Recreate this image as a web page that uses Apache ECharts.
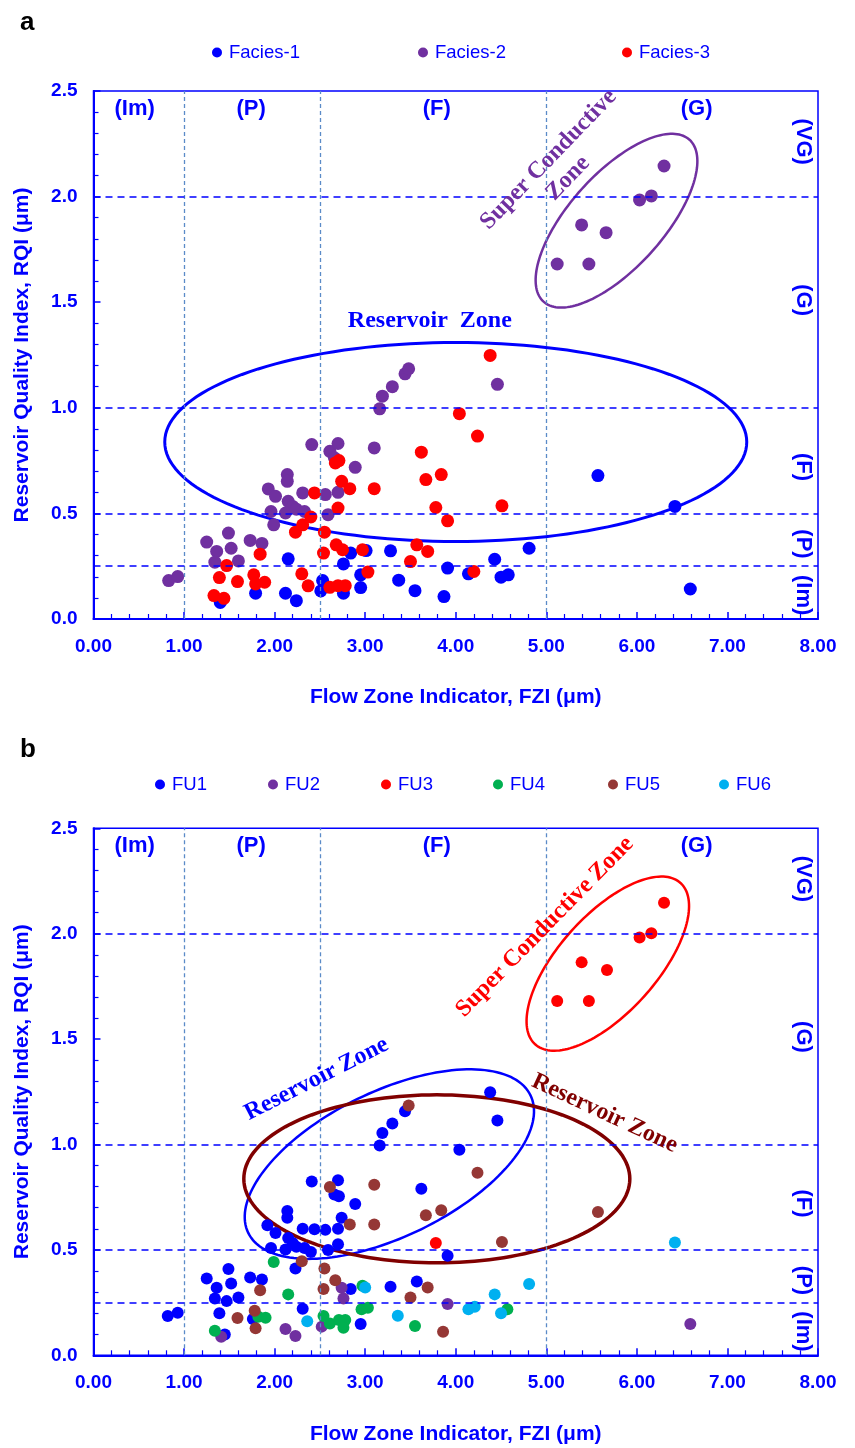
<!DOCTYPE html>
<html><head><meta charset="utf-8">
<script src="https://cdn.jsdelivr.net/npm/echarts@6/dist/echarts.min.js"></script>
<style>html,body{margin:0;padding:0;background:#fff}#c{width:855px;height:1448px}</style>
</head><body><div id="c"></div>
<script>
// ---------- data ----------
const xTickLabels = ['0.00','1.00','2.00','3.00','4.00','5.00','6.00','7.00','8.00'];
const yTickLabels = ['0.0','0.5','1.0','1.5','2.0','2.5'];
const fziBounds = [1.0, 2.5, 5.0];
const rqiBounds = [0.25, 0.5, 1.0, 2.0];
const topClassLabels = [['(Im)',0.455],['(P)',1.74],['(F)',3.79],['(G)',6.66]];
const rightClassLabels = [['(VG)',2.26],['(G)',1.51],['(F)',0.72],['(P)',0.355],['(Im)',0.113]];

const facies1 = [[1.40,0.078],[1.79,0.122],[2.15,0.285],[2.12,0.122],[2.24,0.087],[2.53,0.182],[2.51,0.133],[2.76,0.122],[2.76,0.261],[2.84,0.312],[2.95,0.209],[2.95,0.149],[3.01,0.324],[3.28,0.323],[3.37,0.184],[3.55,0.134],[3.87,0.106],[3.91,0.241],[4.14,0.214],[4.43,0.283],[4.50,0.198],[4.58,0.209],[4.81,0.335],[5.57,0.679],[6.42,0.533],[6.59,0.142]];
const facies2 = [[0.83,0.182],[0.93,0.201],[1.25,0.364],[1.36,0.320],[1.34,0.269],[1.49,0.407],[1.52,0.335],[1.60,0.275],[1.73,0.372],[1.86,0.358],[1.93,0.616],[2.01,0.581],[1.96,0.509],[1.99,0.446],[2.14,0.684],[2.14,0.652],[2.15,0.557],[2.20,0.533],[2.12,0.502],[2.24,0.520],[2.31,0.597],[2.33,0.509],[2.41,0.826],[2.56,0.589],[2.59,0.494],[2.61,0.794],[2.70,0.831],[2.66,0.763],[2.70,0.600],[2.89,0.718],[3.10,0.810],[3.16,0.995],[3.19,1.055],[3.30,1.100],[3.44,1.161],[3.48,1.185],[4.46,1.111],[5.12,1.681],[5.47,1.681],[5.39,1.866],[5.66,1.829],[6.03,1.984],[6.16,2.003],[6.30,2.145]];
const facies3 = [[1.33,0.111],[1.44,0.098],[1.39,0.196],[1.47,0.253],[1.59,0.177],[1.77,0.209],[1.79,0.166],[1.84,0.307],[1.89,0.174],[2.23,0.411],[2.31,0.446],[2.40,0.483],[2.30,0.214],[2.37,0.157],[2.44,0.597],[2.55,0.411],[2.54,0.312],[2.61,0.150],[2.70,0.158],[2.78,0.158],[2.68,0.351],[2.75,0.328],[2.70,0.525],[2.67,0.739],[2.71,0.750],[2.74,0.652],[2.83,0.617],[2.97,0.328],[3.03,0.222],[3.10,0.617],[3.50,0.272],[3.57,0.351],[3.69,0.320],[3.62,0.790],[3.67,0.660],[3.78,0.528],[3.84,0.684],[3.91,0.465],[4.04,0.972],[4.38,1.248],[4.24,0.866],[4.51,0.536],[4.20,0.225]];

const fu1 = [[0.82,0.186],[0.93,0.202],[1.25,0.364],[1.36,0.320],[1.34,0.270],[1.49,0.409],[1.52,0.341],[1.47,0.257],[1.39,0.199],[1.45,0.099],[1.60,0.274],[1.73,0.369],[1.86,0.360],[1.76,0.172],[1.92,0.617],[2.01,0.580],[1.96,0.509],[2.14,0.685],[2.14,0.653],[2.15,0.557],[2.20,0.533],[2.12,0.502],[2.24,0.515],[2.23,0.412],[2.31,0.221],[2.31,0.600],[2.33,0.509],[2.40,0.490],[2.41,0.825],[2.44,0.598],[2.56,0.595],[2.59,0.500],[2.70,0.830],[2.66,0.763],[2.71,0.755],[2.74,0.653],[2.70,0.600],[2.70,0.527],[2.84,0.314],[2.89,0.718],[2.95,0.148],[3.16,0.995],[3.19,1.055],[3.30,1.100],[3.44,1.158],[3.28,0.325],[3.57,0.350],[3.62,0.790],[3.91,0.472],[4.04,0.975],[4.38,1.248],[4.46,1.114]];
const fu2 = [[1.41,0.088],[2.12,0.125],[2.23,0.091],[2.52,0.136],[2.74,0.320],[2.76,0.270],[3.91,0.243],[6.59,0.148]];
const fu3 = [[5.12,1.681],[5.47,1.681],[5.39,1.864],[5.67,1.828],[6.03,1.982],[6.16,2.002],[6.30,2.147],[3.78,0.533]];
const fu4 = [[1.34,0.117],[1.82,0.183],[1.90,0.178],[1.99,0.443],[2.15,0.289],[2.54,0.186],[2.61,0.151],[2.71,0.167],[2.78,0.167],[2.76,0.131],[2.96,0.219],[3.03,0.226],[2.97,0.330],[3.55,0.139],[4.57,0.218]];
const fu5 = [[1.59,0.177],[1.78,0.211],[1.79,0.128],[1.84,0.309],[2.30,0.446],[2.55,0.412],[2.54,0.314],[2.67,0.356],[2.61,0.798],[2.83,0.621],[3.10,0.809],[3.10,0.621],[3.48,1.185],[3.67,0.664],[3.84,0.688],[4.24,0.866],[4.51,0.538],[5.57,0.680],[3.50,0.274],[3.69,0.322],[3.86,0.112]];
const fu6 = [[2.36,0.162],[3.00,0.322],[3.36,0.188],[4.14,0.219],[4.21,0.230],[4.43,0.289],[4.50,0.199],[4.81,0.338],[6.42,0.535]];

// ---------- style ----------
const BLUE = '#0000ff';
const SANS = '"Liberation Sans", Arial, sans-serif';
const SERIF = '"Liberation Serif", "Times New Roman", serif';

const chart = echarts.init(document.getElementById('c'), null, {renderer:'canvas'});

function xAxisCfg(gi){
  return {gridIndex:gi, type:'value', min:0, max:8, interval:1,
    axisLine:{show:true, onZero:false, lineStyle:{color:BLUE, width:2}},
    axisTick:{show:true, inside:true, length:7, lineStyle:{color:BLUE, width:1.5}},
    minorTick:{show:true, splitNumber:5, length:5, lineStyle:{color:BLUE, width:1.2}},
    splitLine:{show:false},
    axisLabel:{color:BLUE, fontFamily:SANS, fontWeight:'bold', fontSize:19, margin:18,
      formatter:(v)=>xTickLabels[Math.round(v)]},
    name:'Flow Zone Indicator, FZI (\u03bcm)', nameLocation:'middle', nameGap:68,
    nameTextStyle:{color:BLUE, fontFamily:SANS, fontWeight:'bold', fontSize:21}};
}
function yAxisCfg(gi){
  return {gridIndex:gi, type:'value', min:0, max:2.5, interval:0.5,
    axisLine:{show:true, onZero:false, lineStyle:{color:BLUE, width:2}},
    axisTick:{show:true, inside:true, length:7, lineStyle:{color:BLUE, width:1.5}},
    minorTick:{show:true, splitNumber:5, length:5, lineStyle:{color:BLUE, width:1.2}},
    splitLine:{show:false},
    axisLabel:{color:BLUE, fontFamily:SANS, fontWeight:'bold', fontSize:19, margin:16,
      formatter:(v)=>yTickLabels[Math.round(v*2)]},
    name:'Reservoir Quality Index, RQI (\u03bcm)', nameLocation:'middle', nameGap:61,
    nameTextStyle:{color:BLUE, fontFamily:SANS, fontWeight:'bold', fontSize:21}};
}

function boundLines(){
  const d = [];
  fziBounds.forEach(v=>d.push({xAxis:v, lineStyle:{color:'#5b8bc8', type:[4,3], width:1.3}}));
  rqiBounds.forEach(v=>d.push({yAxis:v, lineStyle:{color:BLUE, type:[7,5], width:1.5}}));
  return {silent:true, symbol:['none','none'], label:{show:false}, animation:false, data:d};
}

function sc(name, data, color, gi, size, withLines){
  const s = {name, type:'scatter', xAxisIndex:gi, yAxisIndex:gi, data,
    symbol:'circle', symbolSize:size, itemStyle:{color, opacity:1}, z:3, animation:false};
  if (withLines) s.markLine = boundLines();
  return s;
}

function legendItem(name, left, top){
  return {data:[{name, icon:'circle'}], left, top, padding:0, itemWidth:10, itemHeight:10, itemGap:0,
    textStyle:{color:BLUE, fontFamily:SANS, fontSize:18.5, padding:[0,0,0,2]}, selectedMode:false};
}

const option = {
  backgroundColor:'#fff',
  animation:false,
  grid:[
    {left:93.5, top:91, width:724.5, height:528, show:true, borderColor:BLUE, borderWidth:1.5, containLabel:false},
    {left:93.5, top:828.3, width:724.5, height:527, show:true, borderColor:BLUE, borderWidth:1.5, containLabel:false}
  ],
  xAxis:[xAxisCfg(0), xAxisCfg(1)],
  yAxis:[yAxisCfg(0), yAxisCfg(1)],
  legend:[
    legendItem('Facies-1', 212, 43), legendItem('Facies-2', 418, 43), legendItem('Facies-3', 622, 43),
    legendItem('FU1', 155, 775), legendItem('FU2', 268, 775), legendItem('FU3', 381, 775),
    legendItem('FU4', 493, 775), legendItem('FU5', 608, 775), legendItem('FU6', 719, 775)
  ],
  series:[
    sc('Facies-1', facies1, '#0000ff', 0, 13, true),
    sc('Facies-2', facies2, '#7030a0', 0, 13, false),
    sc('Facies-3', facies3, '#ff0000', 0, 13, false),
    sc('FU1', fu1, '#0000ff', 1, 12, true),
    sc('FU2', fu2, '#7030a0', 1, 12, false),
    sc('FU3', fu3, '#ff0000', 1, 12, false),
    sc('FU4', fu4, '#00b050', 1, 12, false),
    sc('FU5', fu5, '#953735', 1, 12, false),
    sc('FU6', fu6, '#00b0f0', 1, 12, false)
  ]
};
chart.setOption(option);

// ---------- annotations (anchored in data coordinates) ----------
const ellipses = [
  {g:0, x:4.00, y:0.838, a:291, b:99.5, angle:0,  color:'#0000ff', w:3},
  {g:0, x:5.775, y:1.886, a:109, b:47,  angle:48, color:'#7030a0', w:2.5},
  {g:1, x:5.679, y:1.858, a:108.6, b:48.9, angle:48, color:'#ff0000', w:2.5},
  {g:1, x:3.267, y:0.907, a:157, b:72.5, angle:26, color:'#0000ff', w:2.5},
  {g:1, x:3.791, y:0.837, a:193, b:84,  angle:0,  color:'#800000', w:3.5}
];
const zoneTexts = [
  {g:0, x:3.714, y:1.410, text:'Reservoir  Zone', color:'#0000ff', angle:0},
  {g:0, x:5.132, y:2.131, text:'Super Conductive\nZone', color:'#7030a0', angle:46},
  {g:1, x:4.983, y:2.032, text:'Super Conductive Zone', color:'#ff0000', angle:45.5},
  {g:1, x:2.464, y:1.311, text:'Reservoir Zone', color:'#0000ff', angle:27},
  {g:1, x:5.644, y:1.147, text:'Reservoir Zone', color:'#800000', angle:-25}
];

const graphics = [];
ellipses.forEach(e=>{
  const c = chart.convertToPixel({gridIndex:e.g}, [e.x, e.y]);
  const th = e.angle*Math.PI/180, pts=[];
  for (let i=0;i<160;i++){
    const t = i/160*2*Math.PI, ex=e.a*Math.cos(t), ey=e.b*Math.sin(t);
    pts.push([c[0]+ex*Math.cos(th)+ey*Math.sin(th), c[1]-ex*Math.sin(th)+ey*Math.cos(th)]);
  }
  graphics.push({type:'polygon', silent:true, z:1, shape:{points:pts},
    style:{fill:'none', stroke:e.color, lineWidth:e.w}});
});
zoneTexts.forEach(t=>{
  const c = chart.convertToPixel({gridIndex:t.g}, [t.x, t.y]);
  graphics.push({type:'text', silent:true, z:10, x:c[0], y:c[1], rotation:t.angle*Math.PI/180,
    style:{text:t.text, fill:t.color, font:'bold 24px '+SERIF, lineHeight:27,
      align:'center', verticalAlign:'middle', textAlign:'center', textVerticalAlign:'middle'}});
});
[0,1].forEach(g=>{
  topClassLabels.forEach(l=>{
    const c = chart.convertToPixel({gridIndex:g}, [l[1], 2.417]);
    graphics.push({type:'text', silent:true, z:10, x:c[0], y:c[1],
      style:{text:l[0], fill:BLUE, font:'bold 22px '+SANS, align:'center', verticalAlign:'middle', textAlign:'center', textVerticalAlign:'middle'}});
  });
  rightClassLabels.forEach(l=>{
    const c = chart.convertToPixel({gridIndex:g}, [7.83, l[1]]);
    graphics.push({type:'text', silent:true, z:10, x:c[0], y:c[1], rotation:-Math.PI/2,
      style:{text:l[0], fill:BLUE, font:'bold 22px '+SANS, align:'center', verticalAlign:'middle', textAlign:'center', textVerticalAlign:'middle'}});
  });
});
graphics.push({type:'text', silent:true, x:20, y:23, style:{text:'a', fill:'#000', font:'bold 26px '+SANS, align:'left', verticalAlign:'middle', textAlign:'left', textVerticalAlign:'middle'}});
graphics.push({type:'text', silent:true, x:20, y:750, style:{text:'b', fill:'#000', font:'bold 26px '+SANS, align:'left', verticalAlign:'middle', textAlign:'left', textVerticalAlign:'middle'}});
chart.setOption({graphic:graphics});
</script></body></html>
